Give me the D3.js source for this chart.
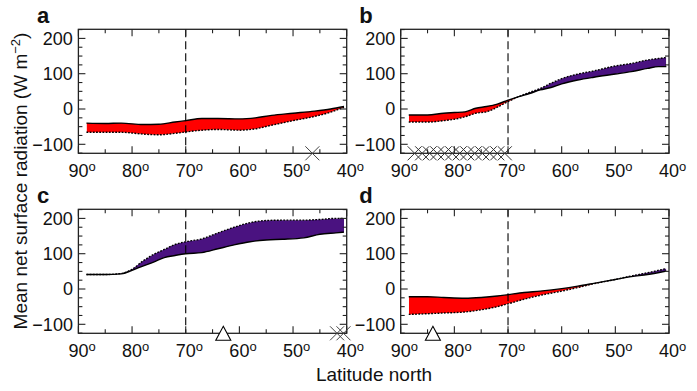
<!DOCTYPE html>
<html>
<head>
<meta charset="utf-8">
<script src="https://cdn.jsdelivr.net/npm/d3@7"></script>
<style>
  body { margin: 0; background: #fff; }
  text { font-family: "Liberation Sans", Arial, Helvetica, sans-serif; }
</style>
</head>
<body>
<div id="chart"></div>
<script>
// panel a
var latA    = [88.5, 85, 82, 78, 75, 72, 70, 67, 64, 60, 57, 54, 50, 46, 43, 40.5];
var solidA  = [-40, -41, -40, -44, -43, -37, -33, -27, -27, -28, -25, -18, -12, -6, 0, 7];
var dottedA = [-66, -66, -66, -71, -73, -69, -65, -60, -58, -60, -56, -46, -33, -21, -9, 5];
// panel b
var latB    = [88.5, 85, 82, 80, 78, 76, 74, 72, 70, 68, 66, 64, 62, 60, 57, 54, 50, 47, 44, 42, 40.5];
var solidB  = [-17, -17, -12, -10, -8, 2, 7, 14, 25, 35, 44, 54, 61, 71, 82, 90, 99, 106, 115, 120, 120];
var dottedB = [-37, -37, -33, -29, -22, -12, -8, 5, 21, 35, 47, 58, 73, 86, 99, 108, 122, 129, 139, 143, 146];
// panel c
var latC    = [88.5, 85, 82, 80, 78, 76, 74, 72, 70, 67, 64, 61, 58, 55, 52, 48, 45, 42, 40.5];
var solidC  = [41, 41, 43, 53, 65, 76, 89, 95, 100, 103, 114, 125, 134, 139, 141, 145, 155, 159, 161];
var dottedC = [41, 41, 44, 56, 79, 98, 112, 126, 134, 142, 159, 175, 188, 194, 195, 195, 197, 200, 200];
// panel d
var latD    = [88.5, 85, 82, 78, 75, 72, 70, 67, 64, 60, 57, 54, 50, 47, 44, 40.5];
var solidD  = [-22, -22, -24, -26, -24, -20, -16, -10, -6, 1, 8, 16, 27, 35, 41, 51];
var dottedD = [-72, -70, -68, -65, -59, -50, -42, -29, -18, -6, 4, 15, 27, 37, 46, 58];

// markers on the bottom axis (latitudes)
var crossA = [46.4];
var crossB = [87.4, 86.0, 84.6, 83.2, 81.8, 80.4, 79.0, 77.6, 76.2, 74.8, 73.4, 72.0, 70.6];
var crossC = [41.8, 40.6];
var triC = [63];
var triD = [84];

var xTicks = [90, 80, 70, 60, 50, 40];
var xMinor = [85, 75, 65, 55, 45];
var yTicks = [-100, 0, 100, 200];
var yMinor = [-125, -75, -50, -25, 25, 50, 75, 125, 150, 175, 225];

var red = "#ff0000", purple = "#4a1280";

var width = 268.3, height = 124;

var svg = d3.select("#chart")
  .append("svg")
    .attr("width", 697)
    .attr("height", 391);

var panels = [
  {name: "a", left: 78.4,  top: 29.3,  lat: latA, solid: solidA, dotted: dottedA, cross: crossA, tri: []},
  {name: "b", left: 400.7, top: 29.3,  lat: latB, solid: solidB, dotted: dottedB, cross: crossB, tri: []},
  {name: "c", left: 78.4,  top: 209.3, lat: latC, solid: solidC, dotted: dottedC, cross: crossC, tri: triC},
  {name: "d", left: 400.7, top: 209.3, lat: latD, solid: solidD, dotted: dottedD, cross: [],     tri: triD}
];

var x = d3.scaleLinear().domain([90, 40]).range([0, width]);
var y = d3.scaleLinear().domain([-125.5, 225.8]).range([height, 0]);

panels.forEach(function(p, pi) {
  var g = svg.append("g")
    .attr("transform", "translate(" + p.left + "," + p.top + ")");

  var pts = p.lat.map(function(l, i) { return {lat: l, s: p.solid[i], o: p.dotted[i]}; });
  var curve = d3.curveMonotoneX;

  // clip regions: above / below the dotted line
  var defs = g.append("defs");
  defs.append("clipPath").attr("id", "above" + pi)
    .append("path")
    .attr("d", d3.area().curve(curve)
      .x(function(d) { return x(d.lat); })
      .y0(-5)
      .y1(function(d) { return y(d.o); })(pts));
  defs.append("clipPath").attr("id", "below" + pi)
    .append("path")
    .attr("d", d3.area().curve(curve)
      .x(function(d) { return x(d.lat); })
      .y0(height + 5)
      .y1(function(d) { return y(d.o); })(pts));

  // red: solid above dotted
  g.append("path")
    .attr("clip-path", "url(#above" + pi + ")")
    .attr("fill", red)
    .attr("d", d3.area().curve(curve)
      .x(function(d) { return x(d.lat); })
      .y0(height + 5)
      .y1(function(d) { return y(d.s); })(pts));
  // purple: dotted above solid
  g.append("path")
    .attr("clip-path", "url(#below" + pi + ")")
    .attr("fill", purple)
    .attr("d", d3.area().curve(curve)
      .x(function(d) { return x(d.lat); })
      .y0(-5)
      .y1(function(d) { return y(d.s); })(pts));

  // lines
  g.append("path")
    .attr("fill", "none")
    .attr("stroke", "#000")
    .attr("stroke-width", 1.4)
    .attr("d", d3.line().curve(curve)
      .x(function(d) { return x(d.lat); })
      .y(function(d) { return y(d.s); })(pts));
  g.append("path")
    .attr("fill", "none")
    .attr("stroke", "#000")
    .attr("stroke-width", 1.4)
    .attr("stroke-dasharray", "1.8,1.4")
    .attr("d", d3.line().curve(curve)
      .x(function(d) { return x(d.lat); })
      .y(function(d) { return y(d.o); })(pts));

  // dashed line at 70
  g.append("line")
    .attr("x1", x(70)).attr("x2", x(70))
    .attr("y1", 0).attr("y2", height)
    .attr("stroke", "#000")
    .attr("stroke-width", 1.1)
    .attr("stroke-dasharray", "8,4");

  // ticks (inward on all four sides)
  var tickG = g.append("g").attr("stroke", "#222").attr("stroke-width", 1.1);
  function xt(list, len) {
    list.forEach(function(v) {
      tickG.append("line").attr("x1", x(v)).attr("x2", x(v)).attr("y1", 0).attr("y2", len);
      tickG.append("line").attr("x1", x(v)).attr("x2", x(v)).attr("y1", height).attr("y2", height - len);
    });
  }
  function yt(list, len) {
    list.forEach(function(v) {
      tickG.append("line").attr("y1", y(v)).attr("y2", y(v)).attr("x1", 0).attr("x2", len);
      tickG.append("line").attr("y1", y(v)).attr("y2", y(v)).attr("x1", width).attr("x2", width - len);
    });
  }
  xt(xTicks, 7); xt(xMinor, 4);
  yt(yTicks, 7); yt(yMinor, 4);

  // frame
  g.append("rect")
    .attr("width", width).attr("height", height)
    .attr("fill", "none")
    .attr("stroke", "#222")
    .attr("stroke-width", 1.3);

  // x tick labels with superscript o
  xTicks.forEach(function(v) {
    var t = g.append("text")
      .attr("x", x(v) - 10)
      .attr("y", height + 23.5)
      .attr("font-size", 18)
      .attr("fill", "#111")
      .text(v);
    t.append("tspan")
      .attr("font-size", 13)
      .attr("dy", -6)
      .text("o");
  });
  // y tick labels
  yTicks.forEach(function(v) {
    g.append("text")
      .attr("x", -5.5)
      .attr("y", y(v))
      .attr("dy", "0.35em")
      .attr("text-anchor", "end")
      .attr("font-size", 18)
      .attr("fill", "#111")
      .text(v < 0 ? "\u2212" + Math.abs(v) : v);
  });

  // markers
  p.cross.forEach(function(l) {
    var cx = x(l), cy = height;
    g.append("path")
      .attr("d", "M" + (cx - 7) + "," + (cy - 7) + "L" + (cx + 7) + "," + (cy + 7) +
                 "M" + (cx + 7) + "," + (cy - 7) + "L" + (cx - 7) + "," + (cy + 7))
      .attr("stroke", pi == 1 ? "#333" : "#444")
      .attr("stroke-width", 1)
      .attr("fill", "none");
  });
  p.tri.forEach(function(l) {
    var cx = x(l), cy = height;
    g.append("path")
      .attr("d", "M" + cx + "," + (cy - 7) + "L" + (cx + 7.5) + "," + (cy + 7) + "L" + (cx - 7.5) + "," + (cy + 7) + "Z")
      .attr("stroke", "#000")
      .attr("stroke-width", 1.1)
      .attr("fill", "#fff");
  });

  // panel letter
  g.append("text")
    .attr("x", -41.5)
    .attr("y", -6.5)
    .attr("font-size", 22)
    .attr("font-weight", "bold")
    .attr("fill", "#111")
    .text(p.name);
});

// axis titles
svg.append("text")
  .attr("transform", "translate(27,181) rotate(-90)")
  .attr("text-anchor", "middle")
  .attr("font-size", 19)
  .attr("fill", "#111")
  .text("Mean net surface radiation (W m")
  .append("tspan").attr("font-size", 13).attr("dy", -7).text("\u22122")
  .select(function() { return this.parentNode; })
  .append("tspan").attr("dy", 7).text(")");

svg.append("text")
  .attr("x", 374)
  .attr("y", 381)
  .attr("text-anchor", "middle")
  .attr("font-size", 19)
  .attr("fill", "#111")
  .text("Latitude north");
</script>
</body>
</html>
